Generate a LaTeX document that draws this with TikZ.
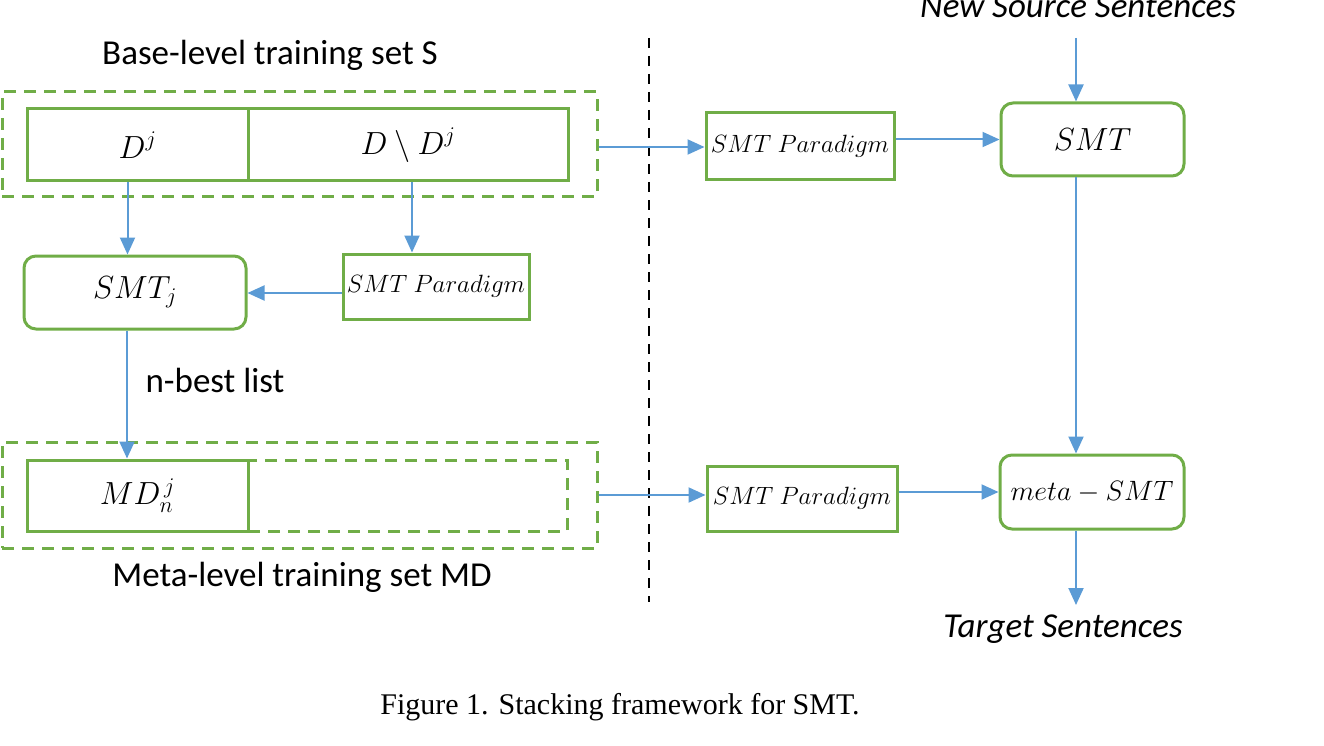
\RequirePackage{fix-cm}
\documentclass[tikz,border=0pt]{standalone}
\usepackage{fontspec}
\setmainfont{Liberation Serif}
\newfontfamily\lblfont{Carlito}
\usetikzlibrary{arrows.meta}
\definecolor{grn}{HTML}{70AD47}
\definecolor{blu}{HTML}{5B9BD5}
\begin{document}
\begin{tikzpicture}[x=1pt,y=-1pt,
  box/.style={draw=grn, line width=3pt, inner sep=0pt},
  rbox/.style={box, rounded corners=12pt},
  dbox/.style={draw=grn, line width=3pt, dash pattern=on 12pt off 8pt, inner sep=0pt},
  arr/.style={draw=blu, line width=2pt, -{Triangle[width=15pt,length=17pt]}},
  vdash/.style={draw=black, line width=2pt, dash pattern=on 10pt off 8pt},
  lbl/.style={font=\lblfont\fontsize{35}{40}\selectfont, inner sep=0pt},
  ilbl/.style={font=\lblfont\itshape\fontsize{35}{40}\selectfont, inner sep=0pt},
  mbig/.style={font=\fontsize{32}{36}\selectfont},
  msmall/.style={font=\fontsize{25}{29}\selectfont}]
\useasboundingbox (0,0) rectangle (1324,746);
% left, base level
\node[lbl] (baselbl) at (270,55) {Base-level training set S};
\node[dbox, minimum width=595, minimum height=104] (outer1) at (299.5,144) {};
\node[box, minimum width=221, minimum height=72, mbig] (cell1) at (137.5,145) {$D^j$};
\node[box, minimum width=320, minimum height=72, mbig] (cell2) at (408,145) {$D\setminus D^j$};
\node[rbox, minimum width=222, minimum height=73, mbig] (smtj) at (135,292.5) {$SMT_j$};
\node[box, minimum width=186, minimum height=65, msmall] (par1) at (436,286.5) {$SMT\ Paradigm$};
\node[lbl] (nbest) at (215,380) {n-best list};
% left, meta level
\node[dbox, minimum width=595, minimum height=106] (outer2) at (299.5,495) {};
\node[dbox, minimum width=319, minimum height=71] (mdrest) at (407.5,495.5) {};
\node[box, fill=white, minimum width=221, minimum height=71, mbig] (md) at (137.5,495.5) {$MD^{\,j}_n$};
\node[lbl] (metalbl) at (302,577) {Meta-level training set MD};
% separator
\coordinate (septop) at (649,38);
\coordinate (sepbot) at (649,602);
\draw[vdash] (septop) -- (sepbot);
% right side
\node[ilbl] (src) at (1078,6) {New Source Sentences};
\coordinate (srcend) at (1076,38);
\node[box, minimum width=188, minimum height=67, msmall] (par2) at (800,146.5) {$SMT\ Paradigm$};
\node[rbox, minimum width=183, minimum height=73, mbig] (smt) at (1092.5,139.5) {$SMT$};
\node[box, minimum width=190, minimum height=65, msmall] (par3) at (802,498.5) {$SMT\ Paradigm$};
\node[rbox, minimum width=184, minimum height=74, font=\fontsize{28}{32}\selectfont] (meta) at (1092,492) {$meta-SMT$};
\node[ilbl] (tgt) at (1063,629) {Target Sentences};
\coordinate (tgtend) at (1076,605);
\node[font=\fontsize{30}{34}\selectfont, inner sep=0pt] (caption) at (620,707) {Figure 1. Stacking framework for SMT.};
% connectors
\draw[arr] ([xshift=-10pt]cell1.south) -- ([xshift=-10pt]cell1.south |- smtj.north);
\draw[arr] ([xshift=4pt]cell2.south) -- ([xshift=4pt]cell2.south |- par1.north);
\draw[arr] ([yshift=-6.5pt]par1.west) -- ([yshift=-6.5pt]par1.west -| smtj.east);
\draw[arr] ([xshift=-8pt]smtj.south) -- ([xshift=-8pt]smtj.south |- md.north);
\draw[arr] ([yshift=-3pt]outer1.east) -- ([yshift=-3pt]outer1.east -| par2.west);
\draw[arr] (smt.west -| par2.east) -- (smt.west);
\draw[arr] (outer2.east) -- (outer2.east -| par3.west);
\draw[arr] (meta.west -| par3.east) -- (meta.west);
\draw[arr] (srcend) -- (srcend |- smt.north);
\draw[arr] (srcend |- smt.south) -- (srcend |- meta.north);
\draw[arr] (srcend |- meta.south) -- (tgtend);
\end{tikzpicture}
\end{document}
